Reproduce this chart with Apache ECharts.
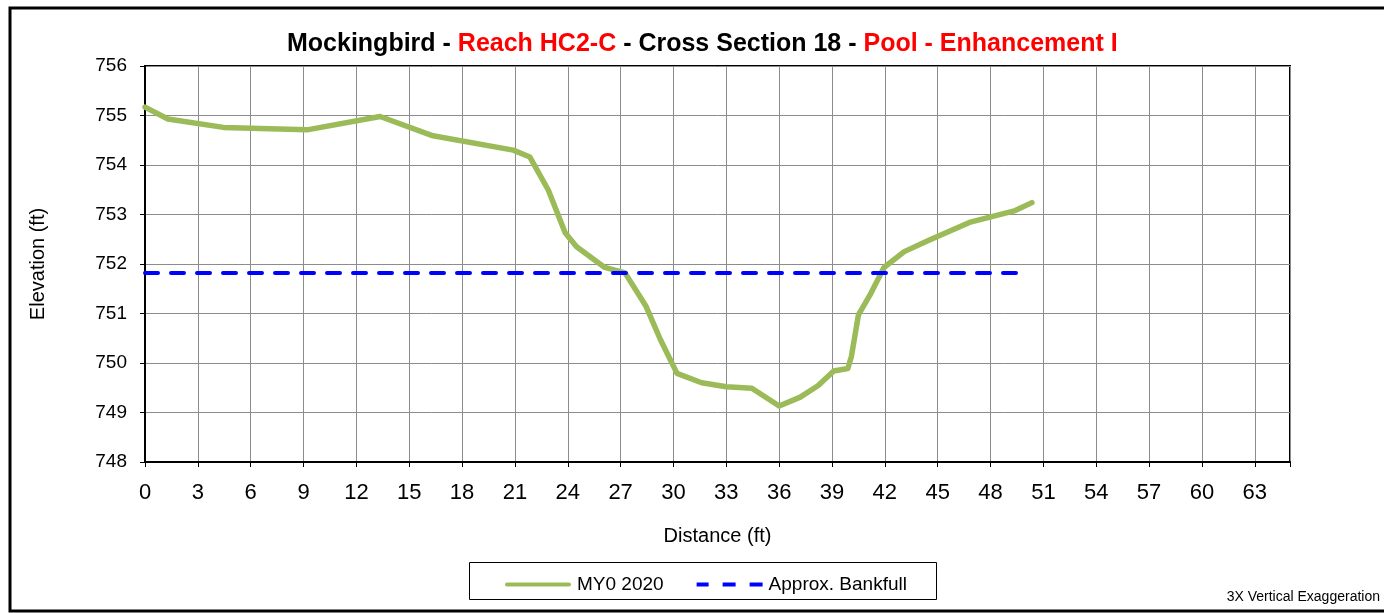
<!DOCTYPE html>
<html>
<head>
<meta charset="utf-8">
<title>Cross Section 18</title>
<script src="https://cdn.jsdelivr.net/npm/echarts@6/dist/echarts.min.js"></script>
<style>
  html, body { margin: 0; padding: 0; background: #fff; }
  #chart { width: 1384px; height: 613px; }
</style>
</head>
<body>
<div id="chart"></div>
<script>
// Survey points (distance in ft, elevation in ft)
const distance = [0, 1.3, 4.45, 9.2, 13.35, 16.35, 20.9, 21.85, 22.9, 23.85, 24.5, 26.1, 27.25, 28.45,
    29.25, 30.2, 31.6, 33.0, 34.45, 36.0, 37.2, 38.2, 39.1, 39.9, 40.1, 40.5, 41.15, 41.95, 43.1,
    44.5, 46.8, 49.4, 50.35];
const elevation = [755.17, 754.93, 754.76, 754.71, 754.98, 754.59, 754.30, 754.16, 753.49, 752.63,
    752.35, 751.93, 751.82, 751.14, 750.48, 749.79, 749.60, 749.52, 749.49, 749.13, 749.31, 749.54,
    749.84, 749.89, 750.13, 750.97, 751.37, 751.93, 752.25, 752.48, 752.84, 753.08, 753.24];

// Approx. bankfull line
const bankfullX = [0, 50];
const bankfullY = [751.82, 751.82];

const xMin = 0, xMax = 65, xStep = 3;
const yMin = 748, yMax = 756, yStep = 1;

const FONT = '"Liberation Sans", Arial, sans-serif';

// legend icons (solid bar, three dashes)
const ICON_SOLID = 'path://M2,0H64A2,2 0 0 1 64,4H2A2,2 0 0 1 2,0Z';
const ICON_DASH = 'path://M0,0H12V4H0Z M26,0H39V4H26Z M53,0H66V4H53Z';

const chart = echarts.init(document.getElementById('chart'), null, { renderer: 'canvas' });

const option = {
    animation: false,
    backgroundColor: '#fff',
    title: {
        text: '{b|Mockingbird - }{r|Reach HC2-C}{b| - Cross Section 18 - }{r|Pool - Enhancement I}',
        left: 282,
        top: 27,
        textStyle: {
            rich: {
                b: { fontFamily: FONT, fontSize: 25, fontWeight: 'bold', color: '#000' },
                r: { fontFamily: FONT, fontSize: 25, fontWeight: 'bold', color: '#ff0000' }
            }
        }
    },
    grid: {
        left: 145, top: 66, right: 94, bottom: 151,
        show: true, borderColor: '#000', borderWidth: 2, backgroundColor: '#fff'
    },
    legend: {
        left: 500, top: 570,
        itemWidth: 68, itemHeight: 4, itemGap: 33,
        textStyle: { fontFamily: FONT, fontSize: 19, color: '#000' },
        data: [
            { name: 'MY0 2020', icon: ICON_SOLID },
            { name: 'Approx. Bankfull', icon: ICON_DASH }
        ]
    },
    xAxis: {
        type: 'value', min: xMin, max: xMax, interval: xStep,
        name: 'Distance (ft)', nameLocation: 'middle', nameGap: 64,
        nameTextStyle: { fontFamily: FONT, fontSize: 20, color: '#000' },
        axisLine: { show: true, onZero: false, lineStyle: { color: '#000', width: 2 } },
        axisTick: { show: true, length: 5, lineStyle: { color: '#000' } },
        axisLabel: {
            fontFamily: FONT, fontSize: 22, color: '#000', margin: 20,
            formatter: v => (v % xStep === 0 ? String(v) : '')
        },
        splitLine: { show: true, lineStyle: { color: '#8c8c8c', width: 1 } }
    },
    yAxis: {
        type: 'value', min: yMin, max: yMax, interval: yStep,
        name: 'Elevation (ft)', nameLocation: 'middle', nameGap: 97,
        nameTextStyle: { fontFamily: FONT, fontSize: 20, color: '#000' },
        axisLine: { show: true, onZero: false, lineStyle: { color: '#000', width: 2 } },
        axisTick: { show: true, length: 5, lineStyle: { color: '#000' } },
        axisLabel: { fontFamily: FONT, fontSize: 19, color: '#000', margin: 18 },
        splitLine: { show: true, lineStyle: { color: '#8c8c8c', width: 1 } }
    },
    series: [
        {
            name: 'MY0 2020',
            type: 'line',
            data: distance.map((d, i) => [d, elevation[i]]),
            symbol: 'none',
            lineStyle: { color: '#9bbb59', width: 5.5, cap: 'round', join: 'round' },
            itemStyle: { color: '#9bbb59' },
            z: 3
        },
        {
            name: 'Approx. Bankfull',
            type: 'line',
            data: bankfullX.map((d, i) => [d, bankfullY[i]]),
            symbol: 'none',
            lineStyle: { color: '#0000ff', width: 4, type: [13, 13], cap: 'round' },
            itemStyle: { color: '#0000ff' },
            z: 4
        }
    ],
    graphic: [
        // outer frame
        {
            type: 'rect',
            shape: { x: 10, y: 8, width: 1400, height: 603 },
            style: { fill: null, stroke: '#000', lineWidth: 3 },
            silent: true
        },
        // legend box
        {
            type: 'rect',
            shape: { x: 469.5, y: 562.5, width: 467, height: 37 },
            style: { fill: null, stroke: '#000', lineWidth: 1 },
            silent: true
        },
        {
            type: 'text',
            right: 4, top: 590,
            style: { text: '3X Vertical Exaggeration', fontFamily: FONT, fontSize: 14, fill: '#000' },
            silent: true
        }
    ]
};

chart.setOption(option);
</script>
</body>
</html>
